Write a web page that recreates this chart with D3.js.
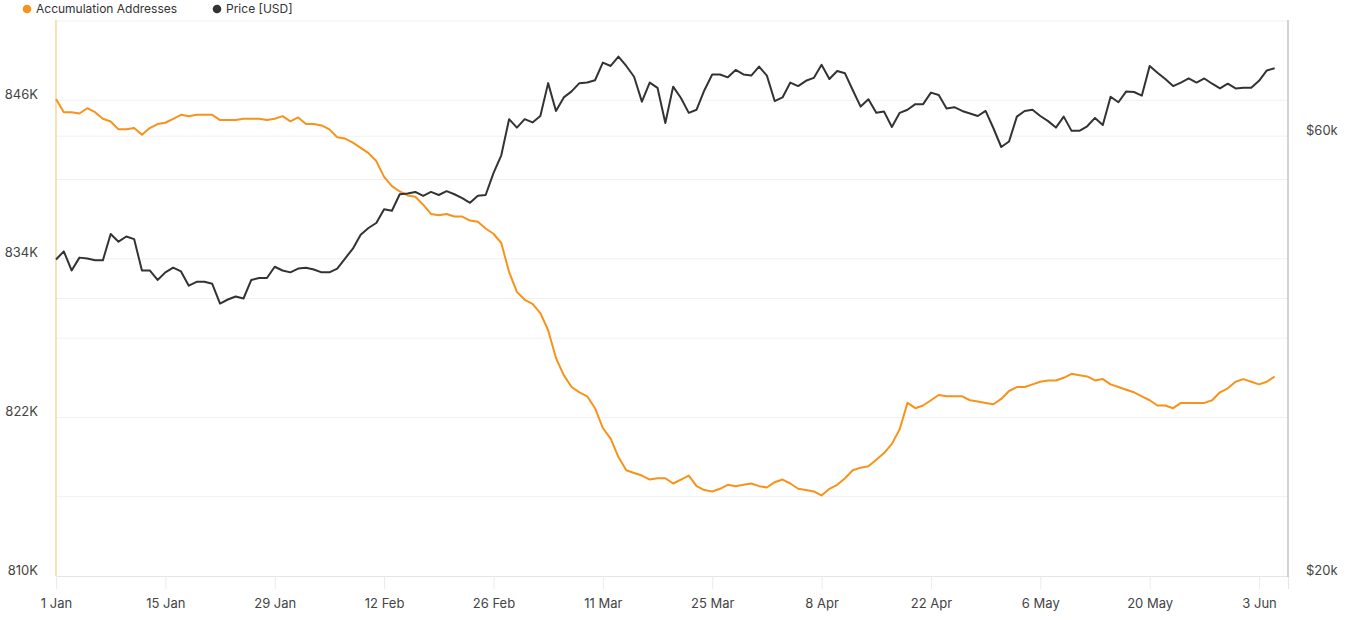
<!DOCTYPE html>
<html>
<head>
<meta charset="utf-8">
<script src="https://cdn.jsdelivr.net/npm/d3@7"></script>
<style>
  html, body { margin: 0; padding: 0; background: #fff; }
  svg { display: block; font-family: Inter, "Noto Sans", sans-serif; }
</style>
</head>
<body>
<svg id="chart" width="1365" height="620"></svg>
<script>
// ---------- DATA ----------
const startDate = "2024-01-01"; // first daily observation
const seriesNames = ["Accumulation Addresses", "Price [USD]"];

// Accumulation addresses, thousands (daily from 1 Jan 2024)
const accumulation = [
  846.1,845.1,845.1,845.0,845.4,845.1,844.6,844.4,843.8,843.8,
  843.9,843.4,843.9,844.2,844.3,844.6,844.9,844.8,844.9,844.9,
  844.9,844.5,844.5,844.5,844.6,844.6,844.6,844.5,844.6,844.8,
  844.4,844.7,844.2,844.2,844.1,843.8,843.2,843.1,842.8,842.4,
  842.0,841.4,840.2,839.5,839.1,838.8,838.7,838.1,837.4,837.3,
  837.4,837.2,837.2,836.9,836.8,836.3,835.9,835.2,833.0,831.5,
  830.9,830.6,829.9,828.6,826.5,825.2,824.3,823.9,823.6,822.7,
  821.2,820.4,819.0,818.0,817.8,817.6,817.3,817.4,817.4,817.0,
  817.3,817.6,816.8,816.5,816.4,816.6,816.9,816.8,816.9,817.0,
  816.8,816.7,817.1,817.3,817.0,816.6,816.5,816.4,816.1,816.6,
  816.9,817.4,818.0,818.2,818.3,818.8,819.3,820.0,821.1,823.1,
  822.7,822.9,823.3,823.7,823.6,823.6,823.6,823.3,823.2,823.1,
  823.0,823.4,824.0,824.3,824.3,824.5,824.7,824.8,824.8,825.0,
  825.3,825.2,825.1,824.8,824.9,824.5,824.3,824.1,823.9,823.6,
  823.3,822.9,822.9,822.7,823.1,823.1,823.1,823.1,823.3,823.9,
  824.2,824.7,824.9,824.7,824.5,824.7,825.1
];

// BTC price, thousands of USD (daily from 1 Jan 2024)
const price = [
  44.1,45.0,42.9,44.3,44.2,44.0,44.0,47.0,46.1,46.7,
  46.4,42.9,42.9,41.9,42.7,43.2,42.8,41.3,41.7,41.7,
  41.5,39.5,39.9,40.2,40.0,41.9,42.1,42.1,43.3,42.9,
  42.7,43.1,43.2,43.0,42.7,42.7,43.1,44.2,45.3,46.9,
  47.7,48.3,50.0,49.8,51.9,52.0,52.2,51.7,52.2,51.8,
  52.3,51.9,51.4,50.8,51.7,51.8,54.7,57.2,62.6,61.3,
  62.6,62.1,63.1,68.5,63.9,66.1,67.1,68.5,68.6,69.0,
  72.1,71.5,73.2,71.5,69.6,65.4,68.6,67.7,62.0,67.9,
  66.0,63.6,64.1,67.3,70.0,70.0,69.5,70.8,70.0,69.8,
  71.4,69.8,65.5,66.1,68.6,68.0,68.9,69.4,71.7,69.2,
  70.6,70.2,67.3,64.6,65.8,63.6,63.8,61.4,63.6,64.1,
  65.0,65.0,66.9,66.5,64.3,64.5,63.9,63.5,63.1,63.9,
  61.2,58.4,59.2,63.0,63.9,64.1,63.1,62.3,61.3,63.0,
  60.8,60.8,61.5,62.8,61.7,66.2,65.3,67.1,67.0,66.4,
  71.5,70.3,69.2,68.0,68.6,69.3,68.6,69.3,68.4,67.6,
  68.4,67.6,67.7,67.7,68.9,70.7,71.1
];

// Axis ticks
const xTickLabels = ["1 Jan","15 Jan","29 Jan","12 Feb","26 Feb","11 Mar","25 Mar","8 Apr","22 Apr","6 May","20 May","3 Jun"];
const xTickDates = ["2024-01-01","2024-01-15","2024-01-29","2024-02-12","2024-02-26","2024-03-11","2024-03-25","2024-04-08","2024-04-22","2024-05-06","2024-05-20","2024-06-03"];
const leftTickValues = [810, 822, 834, 846];
const leftTickLabels = ["810K","822K","834K","846K"];
const leftGridValues = [816, 822, 828, 834, 840, 846, 852];
const rightTickValues = [20, 60];
const rightTickLabels = ["$20k","$60k"];
const rightGridValues = [40, 60];

// ---------- CHART ----------
const parse = d3.utcParse("%Y-%m-%d");
const t0 = parse(startDate);
const dates = accumulation.map((_, i) => d3.utcDay.offset(t0, i));

const plot = { left: 56, right: 1288, top: 21, bottom: 576 };
const colors = { acc: "#F7931A", price: "#333333" };

const svg = d3.select("#chart");

const x = d3.scaleUtc()
  .domain([t0, d3.utcHour.offset(t0, Math.round(157.7 * 24))])
  .range([plot.left, plot.right]);
const yL = d3.scaleLinear().domain([810, 852]).range([plot.bottom, plot.top]);
const yR = d3.scaleLog().domain([20, 80]).range([plot.bottom, plot.top]);

// gridlines
const grid = svg.append("g");
grid.selectAll("line.gl").data(leftGridValues).join("line")
  .attr("x1", plot.left).attr("x2", plot.right)
  .attr("y1", d => yL(d)).attr("y2", d => yL(d))
  .attr("stroke", "#f0f0f0").attr("stroke-width", 1);
grid.selectAll("line.gr").data(rightGridValues).join("line")
  .attr("x1", plot.left).attr("x2", plot.right)
  .attr("y1", d => yR(d)).attr("y2", d => yR(d))
  .attr("stroke", "#f0f0f0").attr("stroke-width", 1);

// x axis
const xAxis = d3.axisBottom(x)
  .tickValues(xTickDates.map(parse))
  .tickFormat((d, i) => xTickLabels[i])
  .tickSize(13).tickPadding(10);
const gx = svg.append("g").attr("transform", `translate(0,${plot.bottom})`).call(xAxis);
gx.select(".domain").attr("stroke", "#e6e6e6").attr("stroke-width", 1.2);
gx.selectAll(".tick line").attr("stroke", "#ebebeb");
gx.selectAll(".tick text").attr("fill", "#444").attr("font-size", 13).attr("font-family", "Inter");

// left axis
const yAxisL = d3.axisLeft(yL)
  .tickValues(leftTickValues)
  .tickFormat((d, i) => leftTickLabels[i])
  .tickSize(0).tickPadding(18);
const gl = svg.append("g").attr("transform", `translate(${plot.left},0)`).call(yAxisL);
gl.select(".domain").remove();
gl.selectAll(".tick text").attr("dy", -2).attr("fill", "#444").attr("font-size", 13).attr("font-family", "Inter");
svg.append("line")
  .attr("x1", plot.left).attr("x2", plot.left)
  .attr("y1", plot.top - 1).attr("y2", plot.bottom)
  .attr("stroke", "#fcd8a6").attr("stroke-width", 1.6);

// right axis
const yAxisR = d3.axisRight(yR)
  .tickValues(rightTickValues)
  .tickFormat((d, i) => rightTickLabels[i])
  .tickSize(0).tickPadding(18);
const gr = svg.append("g").attr("transform", `translate(${plot.right},0)`).call(yAxisR);
gr.select(".domain").remove();
gr.selectAll(".tick text").attr("dy", -2).attr("fill", "#444").attr("font-size", 13).attr("font-family", "Inter");
svg.append("line")
  .attr("x1", plot.right).attr("x2", plot.right)
  .attr("y1", plot.top - 1).attr("y2", plot.bottom + 1)
  .attr("stroke", "#c4c4c4").attr("stroke-width", 1.5);

// lines
const lineAcc = d3.line().x((d, i) => x(dates[i])).y(d => yL(d));
const linePrice = d3.line().x((d, i) => x(dates[i])).y(d => yR(d));

svg.append("path").datum(accumulation)
  .attr("d", lineAcc).attr("fill", "none")
  .attr("stroke", colors.acc).attr("stroke-width", 2).attr("stroke-linejoin", "round");
svg.append("path").datum(price)
  .attr("d", linePrice).attr("fill", "none")
  .attr("stroke", colors.price).attr("stroke-width", 2).attr("stroke-linejoin", "round");

// legend
const legend = svg.append("g").attr("font-family", "Inter").attr("font-size", 12).attr("fill", "#333");
const legendItems = [
  { name: seriesNames[0], color: colors.acc, cx: 27, tx: 36 },
  { name: seriesNames[1], color: colors.price, cx: 217, tx: 226 }
];
legendItems.forEach(it => {
  legend.append("circle").attr("cx", it.cx).attr("cy", 9).attr("r", 4.3).attr("fill", it.color);
  legend.append("text").attr("x", it.tx).attr("y", 13).text(it.name);
});
</script>
</body>
</html>
